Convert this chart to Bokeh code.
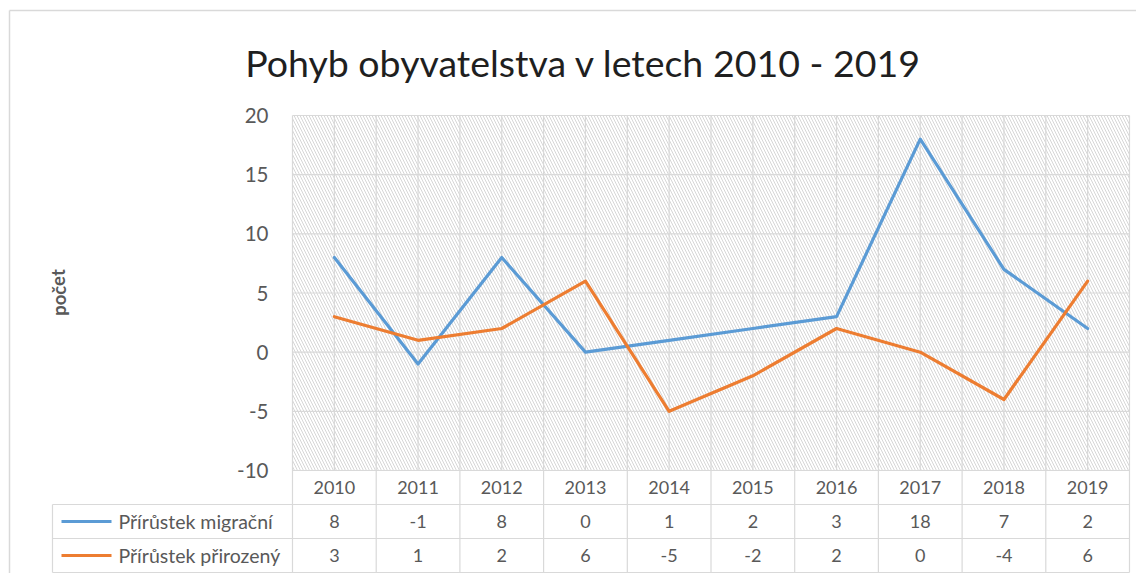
from bokeh.plotting import figure
from bokeh.models import Range1d
from bokeh.core.properties import value
from bokeh.embed import file_html
from bokeh.resources import INLINE

# ---- data ----
years = ["2010", "2011", "2012", "2013", "2014", "2015", "2016", "2017", "2018", "2019"]
migracni = [8, -1, 8, 0, 1, 2, 3, 18, 7, 2]
prirozeny = [3, 1, 2, 6, -5, -2, 2, 0, -4, 6]
series_names = ["Přírůstek migrační", "Přírůstek přirozený"]
series_colors = ["#5b9bd5", "#ed7d31"]
y_ticks = [-10, -5, 0, 5, 10, 15, 20]
title_text = "Pohyb obyvatelstva v letech 2010 - 2019"
y_label = "počet"

# ---- layout (picture pixels) ----
W, H = 1136, 573
M = 0
PL, PR, PT, PB = 292, 1129, 115, 470
LL = 52
ROWS = [470, 504, 538, 572]
FONT = "Lato"
GRID = "#d9d9d9"
TXT = "#595959"

n = len(years)
sx = (PR - PL) / n
ymin, ymax = y_ticks[0], y_ticks[-1]
sy = (PB - PT) / (ymax - ymin)
X0 = -0.5 - (PL - M) / sx
X1 = X0 + W / sx
Y1 = ymax + (PT - M) / sy
Y0 = Y1 - H / sy


def dx(px):
    return X0 + (px - M) / sx


def dy(py):
    return Y1 - (py - M) / sy


p = figure(width=W, height=H, x_range=Range1d(X0, X1), y_range=Range1d(Y0, Y1),
           output_backend="svg", toolbar_location=None, min_border=0,
           x_axis_location=None, y_axis_location=None)
p.grid.visible = False
p.outline_line_color = None
p.background_fill_color = "white"
p.border_fill_color = "white"

# chart border
p.segment(x0=[dx(9), dx(9)], x1=[dx(1137), dx(9)], y0=[dy(10), dy(10)], y1=[dy(10), dy(600)],
          line_color="#d9d9d9", line_width=1.5)

# hatched plot area
p.quad(left=[-0.5], right=[n - 0.5], bottom=[ymin], top=[ymax], fill_color="white",
       line_color=None, hatch_pattern="left_diagonal_line", hatch_color="#d6d6d6",
       hatch_scale=6, hatch_weight=1)

# horizontal gridlines
p.segment(x0=[-0.5] * len(y_ticks), x1=[n - 0.5] * len(y_ticks), y0=y_ticks, y1=y_ticks,
          line_color=GRID, line_width=1.2)
# vertical gridlines at category centres
p.segment(x0=list(range(n)), x1=list(range(n)), y0=[ymin] * n, y1=[ymax] * n,
          line_color=GRID, line_width=1.2)
# category boundaries extend through the data table
tb = dy(ROWS[-1])
bx = [i - 0.5 for i in range(n + 1)]
p.segment(x0=bx, x1=bx, y0=[ymax] * (n + 1), y1=[tb] * (n + 1), line_color=GRID, line_width=1.2)
# table horizontal lines
p.segment(x0=[-0.5], x1=[n - 0.5], y0=[dy(ROWS[1])], y1=[dy(ROWS[1])], line_color=GRID, line_width=1.2)
p.segment(x0=[dx(LL)] * 3, x1=[n - 0.5] * 3, y0=[dy(r) for r in ROWS[1:]],
          y1=[dy(r) for r in ROWS[1:]], line_color=GRID, line_width=1.2)
p.segment(x0=[dx(LL)], x1=[dx(LL)], y0=[dy(ROWS[1])], y1=[tb], line_color=GRID, line_width=1.2)

# series lines
for vals, col in zip([migracni, prirozeny], series_colors):
    p.line(list(range(n)), vals, line_color=col, line_width=3.2, line_join="round", line_cap="round")

# y tick labels
p.text(x=[dx(268)] * len(y_ticks), y=y_ticks, text=[str(t) for t in y_ticks],
       text_align="right", text_baseline="middle", text_color=TXT,
       text_font=value(FONT), text_font_size=value("20.5px"))

# y axis label
p.text(x=[dx(58)], y=[dy(292)], text=[y_label], angle=1.5708, text_align="center",
       text_baseline="middle", text_color=TXT, text_font=value(FONT),
       text_font_size=value("18.5px"), text_font_style="bold")

# title
p.text(x=[dx(583)], y=[dy(62)], text=[title_text], text_align="center", text_baseline="middle",
       text_color="#1f1f1f", text_font=value(FONT), text_font_size=value("37.5px"))

# table: years row
rc = [dy((ROWS[i] + ROWS[i + 1]) / 2) for i in range(3)]
p.text(x=list(range(n)), y=[rc[0]] * n, text=years, text_align="center", text_baseline="middle",
       text_color=TXT, text_font=value(FONT), text_font_size=value("18px"))
for r, (vals, name, col) in enumerate(zip([migracni, prirozeny], series_names, series_colors), start=1):
    p.text(x=list(range(n)), y=[rc[r]] * n, text=[str(v) for v in vals], text_align="center",
           text_baseline="middle", text_color=TXT, text_font=value(FONT), text_font_size=value("18px"))
    p.segment(x0=[dx(61)], x1=[dx(111)], y0=[rc[r]], y1=[rc[r]], line_color=col, line_width=3.2)
    p.text(x=[dx(118)], y=[rc[r]], text=[name], text_align="left", text_baseline="middle",
           text_color=TXT, text_font=value(FONT), text_font_size=value("19.5px"))

open("out.html", "w").write(file_html(p, INLINE))
